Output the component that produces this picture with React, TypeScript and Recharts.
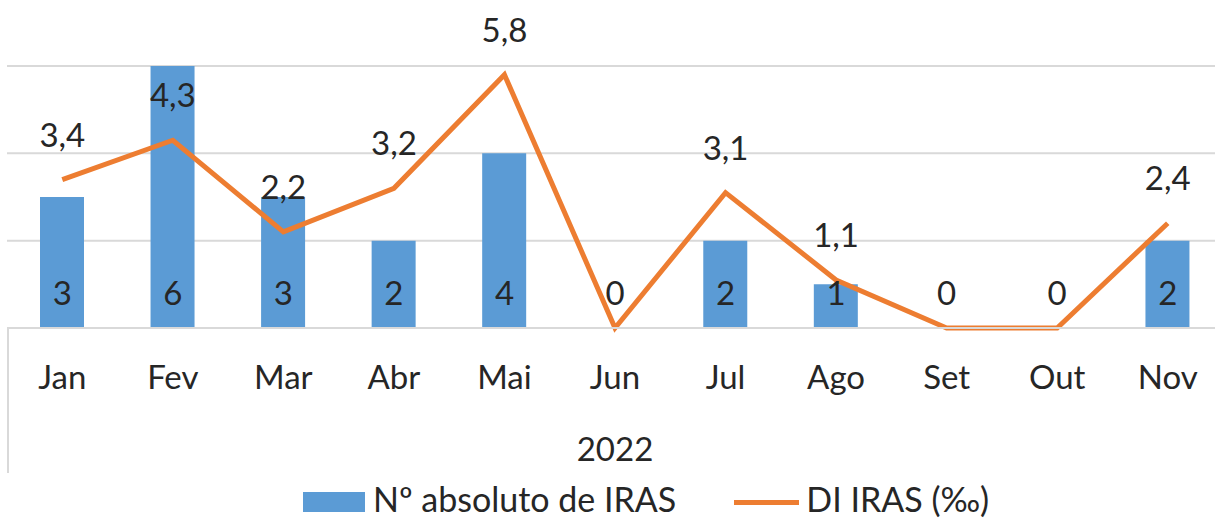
import { ComposedChart, Bar, Line, XAxis, YAxis, CartesianGrid, LabelList, Legend } from "recharts";

// Dados de 2022: número absoluto de IRAS (barras) e densidade de incidência (linha, ‰)
const meses = ["Jan", "Fev", "Mar", "Abr", "Mai", "Jun", "Jul", "Ago", "Set", "Out", "Nov"];
const numeroIras = [3, 6, 3, 2, 4, 0, 2, 1, 0, 0, 2];
const diIras = [3.4, 4.3, 2.2, 3.2, 5.8, 0, 3.1, 1.1, 0, 0, 2.4];
const ticksY = [0, 2, 4, 6];

const AZUL = "#5b9bd5";
const LARANJA = "#ed7d31";
const TEXTO = "#262626";
const GRADE = "#d9d9d9";
const FONTE = "Lato, 'Open Sans', sans-serif";
const TAM = 33;

const dados = meses.map((m, i) => ({ mes: m, n: numeroIras[i], di: diIras[i], base: 0 }));

// vírgula decimal, e sem rótulo nos meses sem casos (o "0" já aparece na barra)
const formatoDI = (v: unknown) => (Number(v) === 0 ? "" : String(v).replace(".", ","));

function LegendaIras() {
  return (
    <div
      style={{
        height: 40,
        display: "flex",
        alignItems: "center",
        marginLeft: 303,
        fontFamily: FONTE,
        fontSize: 34,
        lineHeight: "40px",
        color: TEXTO,
        whiteSpace: "nowrap",
      }}
    >
      <span
        style={{
          display: "inline-block",
          width: 62,
          height: 20,
          background: AZUL,
          marginRight: 8,
          position: "relative",
          top: 3,
        }}
      />
      <span>Nº absoluto de IRAS</span>
      <span
        style={{
          display: "inline-block",
          width: 65,
          height: 5,
          background: LARANJA,
          marginLeft: 58,
          marginRight: 7,
          position: "relative",
          top: 3,
        }}
      />
      <span>DI IRAS (‰)</span>
    </div>
  );
}

export default function App() {
  return (
    <div
      style={{
        position: "fixed",
        top: 0,
        left: 0,
        width: 1215,
        height: 519,
        overflow: "hidden",
        background: "#fff",
        fontFamily: FONTE,
      }}
    >
      <ComposedChart width={1230} height={519} data={dados} margin={{ top: 66, right: 7, bottom: 0, left: 7 }}>
        <CartesianGrid vertical={false} stroke={GRADE} strokeWidth={2} />
        <XAxis
          dataKey="mes"
          height={151}
          tickLine={false}
          tickSize={0}
          tickMargin={38}
          axisLine={{ stroke: GRADE, strokeWidth: 2 }}
          tick={{ fontSize: TAM, fill: TEXTO, fontFamily: FONTE }}
          label={{ value: "2022", position: "insideBottom", offset: 18, fontSize: TAM, fill: TEXTO, fontFamily: FONTE }}
        />
        <YAxis hide domain={[0, 6]} ticks={ticksY} />
        <Legend
          verticalAlign="bottom"
          content={<LegendaIras />}
          wrapperStyle={{ left: 0, width: 1215, top: 479, bottom: "auto" }}
        />
        <Bar dataKey="n" name="Nº absoluto de IRAS" fill={AZUL} barSize={44} isAnimationActive={false} />
        <Line
          dataKey="di"
          name="DI IRAS (‰)"
          stroke={LARANJA}
          strokeWidth={5}
          dot={false}
          activeDot={false}
          isAnimationActive={false}
        >
          <LabelList
            dataKey="di"
            position="top"
            offset={33}
            formatter={formatoDI as never}
            fill={TEXTO}
            fontSize={TAM}
            fontFamily={FONTE}
          />
        </Line>
        {/* série invisível na linha de base só para os rótulos das barras (inclui os zeros) */}
        <Line
          dataKey="base"
          stroke="none"
          dot={false}
          activeDot={false}
          legendType="none"
          isAnimationActive={false}
        >
          <LabelList dataKey="n" position="top" offset={23} fill={TEXTO} fontSize={TAM} fontFamily={FONTE} />
        </Line>
      </ComposedChart>
      {/* divisória vertical do eixo de categorias em dois níveis (estilo Excel) */}
      <div style={{ position: "absolute", left: 7, top: 328, width: 2, height: 145, background: GRADE }} />
    </div>
  );
}
